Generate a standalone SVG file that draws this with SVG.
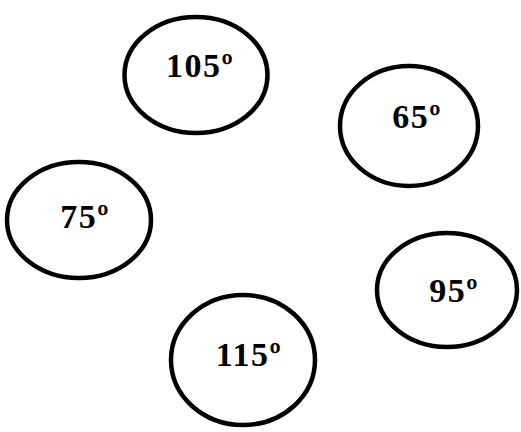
<svg xmlns="http://www.w3.org/2000/svg" width="521" height="432" viewBox="0 0 521 432">
<style>
.n{fill:#fff;stroke:#000;stroke-width:4.5}
.t{font-family:"Liberation Serif","DejaVu Serif",serif;font-weight:bold;font-size:34px;text-anchor:middle;fill:#000;letter-spacing:1.5px}
</style>
<rect width="521" height="432" fill="#fff"/>
<g id="connectors"/>
<g id="n105"><ellipse class="n" cx="196" cy="75" rx="71.5" ry="58"/><text class="t" x="200" y="77">105º</text></g>
<g id="n65"><ellipse class="n" cx="409" cy="126" rx="69" ry="60"/><text class="t" x="417" y="128">65º</text></g>
<g id="n75"><ellipse class="n" cx="79" cy="220" rx="72" ry="58"/><text class="t" x="85" y="228">75º</text></g>
<g id="n95"><ellipse class="n" cx="447" cy="290" rx="70" ry="57"/><text class="t" x="454" y="302">95º</text></g>
<g id="n115"><ellipse class="n" cx="243" cy="360" rx="72" ry="65"/><text class="t" x="249" y="366">115º</text></g>
</svg>
